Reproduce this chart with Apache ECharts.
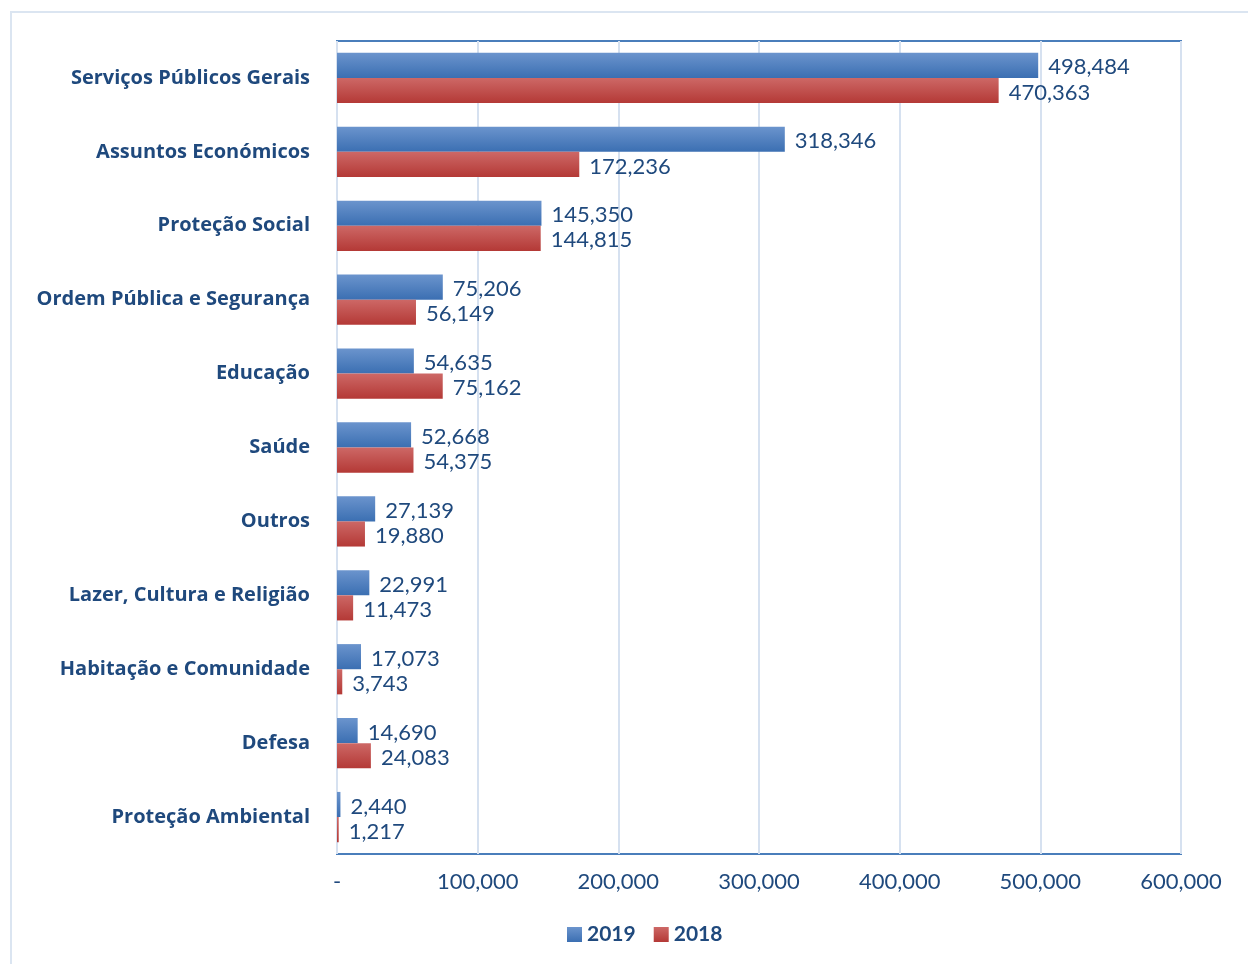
<!DOCTYPE html>
<html>
<head>
<meta charset="utf-8">
<script src="https://cdn.jsdelivr.net/npm/echarts@6/dist/echarts.min.js"></script>
<style>
html,body{margin:0;padding:0;background:#fff;}
#chart{width:1248px;height:964px;}
</style>
</head>
<body>
<div id="chart"></div>
<script>
// categories, top to bottom
const categories=[
    "Serviços Públicos Gerais",
    "Assuntos Económicos",
    "Proteção Social",
    "Ordem Pública e Segurança",
    "Educação",
    "Saúde",
    "Outros",
    "Lazer, Cultura e Religião",
    "Habitação e Comunidade",
    "Defesa",
    "Proteção Ambiental"
];

const values2019=[498484,318346,145350,75206,54635,52668,27139,22991,17073,14690,2440];

const values2018=[470363,172236,144815,56149,75162,54375,19880,11473,3743,24083,1217];

const seriesNames=["2019","2018"];

const textColor="#1f497d";

const fontFamily="Lato, 'Noto Sans', sans-serif";

const chart=echarts.init(document.getElementById("chart"));

function gradient(top,bottom){
    return new echarts.graphic.LinearGradient(0,0,0,1,[
        {offset:0,color:top},
        {offset:1,color:bottom}
    ]);
}

const labelStyle={
    show:true,
    position:"right",
    distance:10,
    offset:[0,2],
    color:textColor,
    fontSize:22,
    fontFamily:fontFamily,
    formatter:p=>Number(p.value).toLocaleString("en-US")
};

chart.setOption({
    animation:false,
    graphic:[
        {
            type:"rect",
            shape:{x:11,y:12,width:1400,height:1100},
            style:{fill:"none",stroke:"#dbe5f1",lineWidth:2},
            silent:true
        }
    ],
    grid:{
        left:337,
        right:67,
        top:41,
        bottom:110,
        show:true,
        borderColor:"#4a7ebb",
        borderWidth:2,
        containLabel:false
    },
    legend:{
        left:562,
        top:919,
        itemWidth:15,
        itemHeight:15,
        itemGap:18,
        icon:"rect",
        textStyle:{
            color:textColor,
            fontSize:21,
            fontWeight:"bold",
            fontFamily:fontFamily
        },
        data:seriesNames
    },
    xAxis:{
        type:"value",
        min:0,
        max:600000,
        interval:100000,
        axisLine:{show:false},
        axisTick:{show:false},
        splitLine:{lineStyle:{color:"#d6e1f0",width:2}},
        axisLabel:{
            margin:17,
            color:textColor,
            fontSize:22,
            fontFamily:fontFamily,
            formatter:v=>v===0?"-":v.toLocaleString("en-US")
        }
    },
    yAxis:{
        type:"category",
        inverse:true,
        data:categories,
        axisLine:{show:false},
        axisTick:{show:false},
        axisLabel:{
            margin:27,
            color:textColor,
            fontSize:20,
            fontWeight:"bold",
            fontFamily:"'Open Sans', Lato, sans-serif",
            padding:[4,0,0,0]
        }
    },
    series:[
        {
            name:seriesNames[0],
            type:"bar",
            data:values2019,
            barGap:"0%",
            barCategoryGap:"32%",
            itemStyle:{color:gradient("#6b94cd","#3b6fb2")},
            label:labelStyle
        },
        {
            name:seriesNames[1],
            type:"bar",
            data:values2018,
            barGap:"0%",
            barCategoryGap:"32%",
            itemStyle:{color:gradient("#cd6866","#b43936")},
            label:labelStyle
        }
    ]
});
</script>
</body>
</html>
